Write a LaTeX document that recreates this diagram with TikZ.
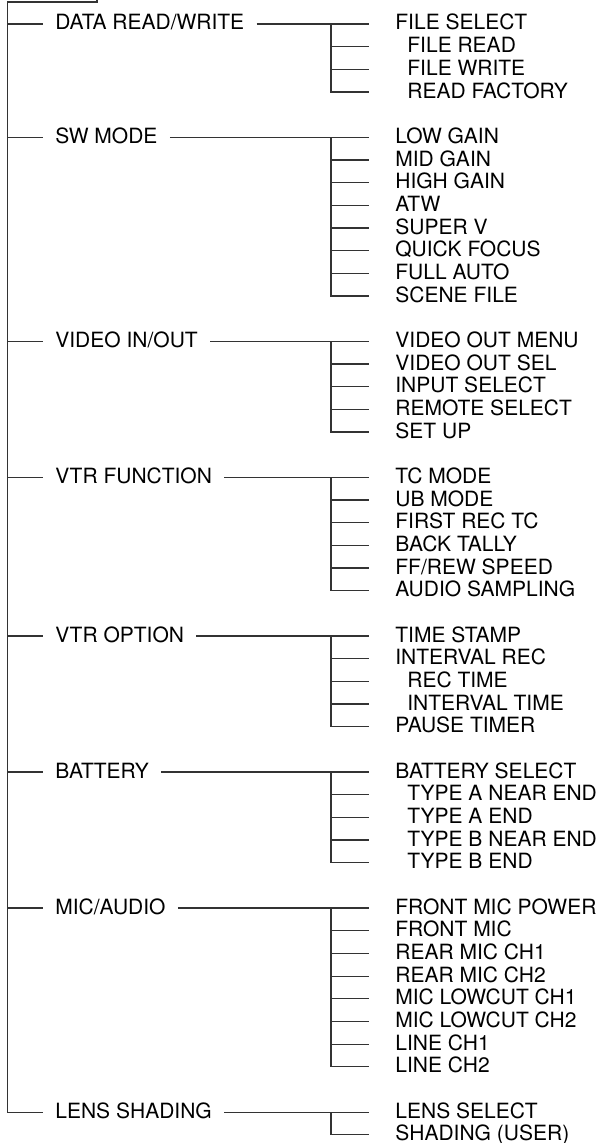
\documentclass[tikz,border=0pt]{standalone}
\usepackage{fontspec}
\setmainfont{TeX Gyre Heros}
\usepackage{tikz}
\usetikzlibrary{positioning, calc}
\definecolor{tratto}{HTML}{333333}
\tikzset{
	% voce del menu principale
	gruppo/.style={anchor=west, inner xsep=6pt, inner ysep=1pt, text height=6pt, text depth=0pt,
	               font=\fontsize{10.5}{12}\selectfont},
	% voce del sottomenu
	voce/.style={anchor=west, inner xsep=0pt, inner ysep=1pt, text height=6pt, text depth=0pt,
	             font=\fontsize{10.5}{12}\selectfont},
	% linee dell'albero
	ramo/.style={draw=tratto, line width=0.65pt},
}
% ordinata della riga n (in px)
\newcommand{\riga}[1]{24+22.67*(#1)}
\newcommand{\rientro}{\hspace*{6pt}}

\begin{document}
\begin{tikzpicture}[x=0.5pt, y=-0.5pt]
    \useasboundingbox (0,0) rectangle (602,1143);
    \coordinate (radice) at (97,0);
    \coordinate (bus) at (7.5,2);
    % primo livello
    \node[gruppo] (dati)  at (43,{\riga{0}})  {DATA READ/WRITE};
    \node[gruppo] (sw)    at (43,{\riga{5}})  {SW MODE};
    \node[gruppo] (video) at (43,{\riga{14}}) {VIDEO IN/OUT};
    \node[gruppo] (vtrf)  at (43,{\riga{20}}) {VTR FUNCTION};
    \node[gruppo] (vtro)  at (43,{\riga{27}}) {VTR OPTION};
    \node[gruppo] (batt)  at (43,{\riga{33}}) {BATTERY};
    \node[gruppo] (mic)   at (43,{\riga{39}}) {MIC/AUDIO};
    \node[gruppo] (lente) at (43,{\riga{48}}) {LENS SHADING};
    % secondo livello
    \foreach \t [count=\i] in {FILE SELECT, \rientro FILE READ, \rientro FILE WRITE, \rientro READ FACTORY}
      \node[voce] (dati\i) at (395,{\riga{\i-1}}) {\t};
    \foreach \t [count=\i] in {LOW GAIN, MID GAIN, HIGH GAIN, ATW, SUPER V, QUICK FOCUS, FULL AUTO, SCENE FILE}
      \node[voce] (sw\i) at (395,{\riga{4+\i}}) {\t};
    \foreach \t [count=\i] in {VIDEO OUT MENU, VIDEO OUT SEL, INPUT SELECT, REMOTE SELECT, SET UP}
      \node[voce] (video\i) at (395,{\riga{13+\i}}) {\t};
    \foreach \t [count=\i] in {TC MODE, UB MODE, FIRST REC TC, BACK TALLY, {FF/REW SPEED}, AUDIO SAMPLING}
      \node[voce] (vtrf\i) at (395,{\riga{19+\i}}) {\t};
    \foreach \t [count=\i] in {TIME STAMP, INTERVAL REC, \rientro REC TIME, \rientro INTERVAL TIME, PAUSE TIMER}
      \node[voce] (vtro\i) at (395,{\riga{26+\i}}) {\t};
    \foreach \t [count=\i] in {BATTERY SELECT, \rientro TYPE A NEAR END, \rientro TYPE A END, \rientro TYPE B NEAR END, \rientro TYPE B END}
      \node[voce] (batt\i) at (395,{\riga{32+\i}}) {\t};
    \foreach \t [count=\i] in {FRONT MIC POWER, FRONT MIC, REAR MIC CH1, REAR MIC CH2, MIC LOWCUT CH1, MIC LOWCUT CH2, LINE CH1, LINE CH2}
      \node[voce] (mic\i) at (395,{\riga{38+\i}}) {\t};
    \foreach \t [count=\i] in {LENS SELECT, SHADING (USER)}
      \node[voce] (lente\i) at (395,{\riga{47+\i}}) {\t};
    % linea principale
    \draw[ramo] (radice) |- (bus) |- (lente.west);
    \foreach \g in {dati,sw,video,vtrf,vtro,batt,mic}
      \draw[ramo] (bus |- \g.west) -- (\g.west);
    % rami dei sottomenu
    \foreach \g/\n in {dati/4, sw/8, video/5, vtrf/6, vtro/5, batt/5, mic/8, lente/2} {
      \draw[ramo] (\g.east) -- ([xshift=-13pt]\g1.west);
      \draw[ramo] ([xshift=-32pt]\g1.west) |- ([xshift=-13pt]\g\n.west);
      \foreach \i in {2,...,\n}
        \draw[ramo] ([xshift=-32pt]\g\i.west) -- ([xshift=-13pt]\g\i.west);
    }
\end{tikzpicture}
\end{document}
